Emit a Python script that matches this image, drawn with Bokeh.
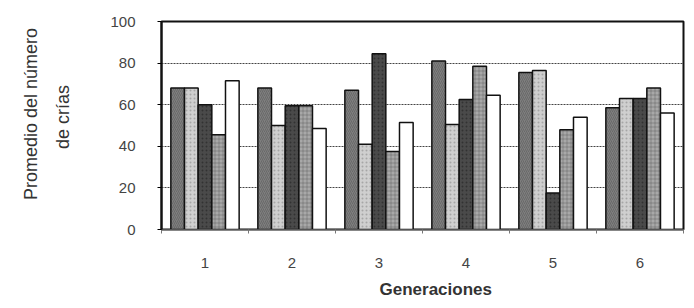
import math
from bokeh.plotting import figure
from bokeh.layouts import row
from bokeh.models import ColumnDataSource, FixedTicker, Range1d, Title
from bokeh.core.properties import value
from bokeh.transform import dodge
from bokeh.embed import file_html
from bokeh.resources import INLINE

generations = [1, 2, 3, 4, 5, 6]
s1 = [68, 68, 67, 81, 75.5, 58.5]
s2 = [68, 50, 41, 50.5, 76.5, 63]
s3 = [60, 59.5, 84.5, 62.5, 17.5, 63]
s4 = [45.5, 59.5, 37.5, 78.5, 48, 68]
s5 = [71.5, 48.5, 51.5, 64.5, 54, 56]
y_ticks = [0, 20, 40, 60, 80, 100]
y_title = ["Promedio del número", "de crías"]
x_title = "Generaciones"

LEFT_W = 80
H = 308

# left strip holding the two-line y-axis title
pl = figure(width=LEFT_W, height=H, output_backend="svg", toolbar_location=None,
            x_range=Range1d(0, LEFT_W), y_range=Range1d(0, H),
            x_axis_type=None, y_axis_type=None, min_border=0)
pl.outline_line_color = None
pl.text(x=[30, 62], y=[H - 137, H - 141.5], text=y_title, angle=math.pi / 2,
        text_align="center", text_baseline="middle",
        text_font=value("Liberation Sans"), text_font_size="18px", text_color="#333333")

src = ColumnDataSource(dict(x=generations, s1=s1, s2=s2, s3=s3, s4=s4, s5=s5))

p = figure(width=686 - LEFT_W, height=H, output_backend="svg", toolbar_location=None,
           x_range=Range1d(0.5, 6.5), y_range=Range1d(0, 100),
           min_border_left=161 - LEFT_W, min_border_right=3, min_border_top=21,
           min_border_bottom=79)

styles = [
    ("s1", -0.314, "#7e7e7e", "/", "#4a4a4a"),
    ("s2", -0.157, "#cfcfcf", ".", "#8a8a8a"),
    ("s3", 0.0, "#4a4a4a", ".", "#222222"),
    ("s4", 0.157, "#a8a8a8", "+", "#555555"),
    ("s5", 0.314, "#ffffff", None, None),
]
w = 0.157
for col, off, fc, hp, hc in styles:
    kw = {}
    if hp:
        kw = dict(hatch_pattern=hp, hatch_color=hc, hatch_scale=4, hatch_weight=0.7, hatch_alpha=0.6)
    p.vbar(x=dodge("x", off), top=col, width=w, source=src,
           fill_color=fc, line_color="#111111", line_width=1.5, **kw)

p.xgrid.grid_line_color = None
p.ygrid.ticker = FixedTicker(ticks=[20, 40, 60, 80])
p.ygrid.grid_line_color = "#444444"
p.ygrid.grid_line_dash = "2 1"
p.ygrid.grid_line_width = 1
p.ygrid.level = "underlay"

p.outline_line_color = "#111111"
p.outline_line_width = 2

p.yaxis.ticker = FixedTicker(ticks=y_ticks)
p.yaxis.axis_line_color = "#111111"
p.yaxis.axis_line_width = 2
p.yaxis.major_tick_out = 4
p.yaxis.major_tick_in = 0
p.yaxis.minor_tick_line_color = None
p.yaxis.major_label_standoff = 22
p.yaxis.major_label_text_font = "Liberation Sans"
p.yaxis.major_label_text_font_size = "15px"
p.yaxis.major_label_text_color = "#444444"

p.xaxis.ticker = FixedTicker(ticks=generations, minor_ticks=[0.5, 1.5, 2.5, 3.5, 4.5, 5.5, 6.5])
p.xaxis.axis_line_color = "#555555"
p.xaxis.axis_line_width = 1
p.xaxis.major_tick_out = 0
p.xaxis.major_tick_in = 0
p.xaxis.minor_tick_out = 4
p.xaxis.minor_tick_in = 0
p.xaxis.minor_tick_line_color = "#777777"
p.xaxis.major_label_standoff = 24
p.xaxis.major_label_text_font = "Liberation Sans"
p.xaxis.major_label_text_font_size = "15px"
p.xaxis.major_label_text_color = "#444444"

tx = Title(text=x_title, align="left", offset=218, text_font="Liberation Sans",
           text_font_size="17px", text_font_style="bold", text_color="#333333")
if "standoff" in tx.properties():
    tx.standoff = 14
p.add_layout(tx, "below")

layout = row(pl, p, spacing=0)
open("out.html", "w").write(file_html(layout, INLINE))
